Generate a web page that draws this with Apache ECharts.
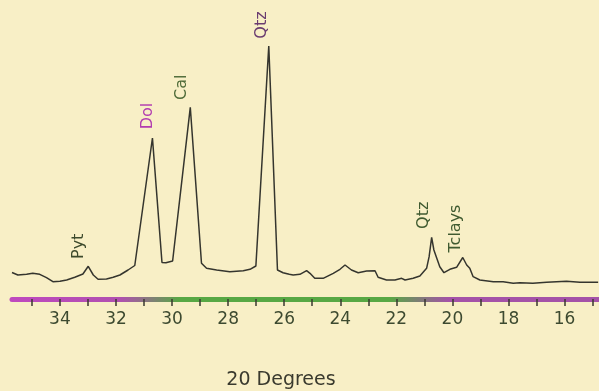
<!DOCTYPE html>
<html>
<head>
<meta charset="utf-8">
<script src="https://cdn.jsdelivr.net/npm/echarts@6/dist/echarts.min.js"></script>
<style>
  html, body { margin: 0; padding: 0; background: #f8efc6; }
  #chart { width: 599px; height: 391px; }
</style>
</head>
<body>
<div id="chart"></div>
<script>
// 2-theta (degrees)
const twoTheta = [35.71, 35.50, 35.19, 34.97, 34.72, 34.48, 34.25, 34.00, 33.76, 33.47,
  33.18, 32.99, 32.81, 32.64, 32.34, 32.10, 31.86, 31.57, 31.33, 30.70,
  30.36, 30.22, 29.98, 29.35, 28.95, 28.77, 28.41, 27.94, 27.46, 27.22,
  27.01, 26.55, 26.24, 26.04, 25.82, 25.68, 25.44, 25.20, 25.08, 24.91,
  24.61, 24.25, 24.01, 23.83, 23.60, 23.36, 23.06, 22.76, 22.65, 22.35,
  22.05, 21.81, 21.69, 21.40, 21.16, 20.92, 20.83, 20.74, 20.66, 20.56,
  20.45, 20.30, 20.09, 19.85, 19.63, 19.49, 19.38, 19.26, 19.02, 18.54,
  18.19, 17.83, 17.59, 17.13, 16.64, 15.93, 15.45, 14.80];
// intensity (counts, arbitrary) at each 2-theta
const intensity = [265, 240, 247, 257, 247, 213, 173, 177, 190, 217,
  250, 327, 240, 197, 200, 217, 240, 290, 335, 1610,
  365, 363, 380, 1917, 357, 307, 290, 273, 283, 297,
  330, 2530, 290, 263, 247, 240, 247, 283, 257, 207,
  207, 257, 297, 340, 290, 263, 280, 283, 217, 190,
  190, 207, 190, 207, 230, 307, 423, 617, 490, 410,
  323, 263, 297, 317, 415, 340, 307, 223, 190, 173,
  173, 157, 163, 157, 167, 177, 167, 168];

// peak annotations
const peakNames = ['Pyt', 'Dol', 'Cal', 'Qtz', 'Qtz', 'Tclays'];
const peakTheta = [32.99, 30.70, 29.35, 26.55, 20.74, 19.63];
const peakCounts = [327, 1610, 1917, 2530, 617, 415];

// axis ticks / labels
const tickValues = [15, 16, 17, 18, 19, 20, 21, 22, 23, 24, 25, 26, 27, 28, 29, 30, 31, 32, 33, 34, 35];
const labelValues = [16, 18, 20, 22, 24, 26, 28, 30, 32, 34];
const axisTitle = '20 Degrees';

const labelOffsets = [[-9, -20], [-5, -22], [-8, -20], [-7, -21], [-8, -22], [-7, -29]];
const labelColors = ['#3d4a2c', '#b23cb0', '#4e6a38', '#6a3c70', '#3f5a30', '#3f5a30'];

const seriesData = twoTheta.map((t, i) => [t, intensity[i]]);

const chart = echarts.init(document.getElementById('chart'), null, { renderer: 'canvas' });

const axisGradient = new echarts.graphic.LinearGradient(0, 0, 599, 0, [
  { offset: 0, color: '#c048c0' },
  { offset: 0.2, color: '#b050b0' },
  { offset: 0.3, color: '#58a844' },
  { offset: 0.65, color: '#58a844' },
  { offset: 0.75, color: '#a452a8' },
  { offset: 1, color: '#a452a8' }
], true);

chart.setOption({
  animation: false,
  backgroundColor: '#f8efc6',
  grid: { left: 12, right: 0, top: 0, bottom: 92, containLabel: false, outerBoundsMode: 'none' },
  xAxis: {
    type: 'value',
    inverse: true,
    min: 14.77,
    max: 35.71,
    name: axisTitle,
    nameLocation: 'middle',
    nameGap: 72,
    nameTextStyle: {
      fontFamily: 'DejaVu Sans', fontSize: 19, color: '#3a3a2e',
      padding: [0, 49, 0, 0]
    },
    axisLine: { show: true, lineStyle: { color: axisGradient, width: 5 } },
    axisTick: {
      show: true, length: 7, customValues: tickValues,
      lineStyle: { color: '#3a3a30', width: 1.5 }
    },
    axisLabel: {
      show: true, customValues: labelValues, margin: 12,
      fontFamily: 'DejaVu Sans', fontSize: 17, color: '#3d4a30'
    },
    splitLine: { show: false }
  },
  yAxis: {
    type: 'value',
    min: 0,
    max: 2990,
    show: false,
    splitLine: { show: false }
  },
  series: [{
    type: 'line',
    data: seriesData,
    showSymbol: false,
    symbol: 'none',
    smooth: false,
    lineStyle: { color: '#35352e', width: 1.5 },
    markPoint: {
      symbol: 'circle',
      symbolSize: 1,
      itemStyle: { color: 'rgba(0,0,0,0)' },
      data: peakNames.map((n, i) => ({
        name: n,
        coord: [peakTheta[i], peakCounts[i]],
        symbolOffset: labelOffsets[i],
        label: {
          show: true,
          formatter: n,
          position: 'inside',
          rotate: 90,
          align: 'center',
          verticalAlign: 'middle',
          fontFamily: 'DejaVu Sans',
          fontSize: 16,
          color: labelColors[i]
        }
      }))
    }
  }]
});
</script>
</body>
</html>
